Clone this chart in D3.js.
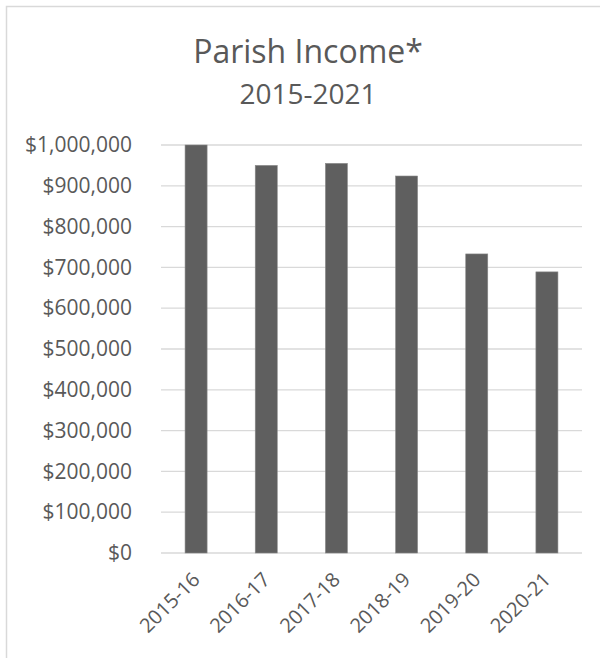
<!DOCTYPE html>
<html>
<head>
<meta charset="utf-8">
<script src="https://cdn.jsdelivr.net/npm/d3@7"></script>
<style>
  body { margin: 0; background: #fff; }
  text { font-family: "Open Sans", sans-serif; fill: #595959; }
</style>
</head>
<body>
<div class="chart"></div>
<script>
const years = ['2015-16', '2016-17', '2017-18', '2018-19', '2019-20', '2020-21']
const income = [1000000, 950000, 955000, 924000, 733000, 689000]
const yTicks = [0, 100000, 200000, 300000, 400000, 500000, 600000, 700000, 800000, 900000, 1000000]

const fullWidth = 600, fullHeight = 658
const margin = { top: 145, right: 18, bottom: 105, left: 161 }
const width = fullWidth - margin.left - margin.right
const height = fullHeight - margin.top - margin.bottom

const svg = d3.select('.chart')
    .append('svg')
    .attr('width', fullWidth)
    .attr('height', fullHeight)

// chart frame (right edge is cut off in the original)
svg.append('path')
    .attr('d', 'M6.5,700 V6.5 H620')
    .style('fill', 'none')
    .style('stroke', '#d9d9d9')
    .style('stroke-width', 1.5)

svg.append('text')
    .attr('x', 308).attr('y', 63)
    .attr('text-anchor', 'middle')
    .style('font-size', '32px')
    .text('Parish Income*')

svg.append('text')
    .attr('x', 308).attr('y', 104)
    .attr('text-anchor', 'middle')
    .style('font-size', '28px')
    .text('2015-2021')

const g = svg.append('g')
    .attr('transform', `translate(${margin.left}, ${margin.top})`)

const xScale = d3.scaleBand()
    .domain(years)
    .range([0, width])
    .paddingInner(0.686)
    .paddingOuter(0.343)

const yScale = d3.scaleLinear()
    .domain([0, 1000000])
    .range([height, 0])

// gridlines
g.selectAll('.grid')
    .data(yTicks)
    .enter().append('line')
    .attr('x1', 0)
    .attr('x2', width)
    .attr('y1', d => yScale(d))
    .attr('y2', d => yScale(d))
    .style('stroke', '#d9d9d9')
    .style('stroke-width', 1.3)

const fmt = d3.format('$,.0f')
const yAxis = d3.axisLeft(yScale).tickValues(yTicks).tickFormat(fmt).tickSize(0).tickPadding(29)
const gY = g.append('g').style('font-size', '21px').call(yAxis)
gY.select('.domain').remove()
gY.selectAll('text').style('font-family', '"Open Sans", sans-serif').style('fill', '#595959')

g.selectAll('.bar')
    .data(income)
    .enter().append('rect')
    .attr('x', (d, i) => xScale(years[i]))
    .attr('y', d => yScale(d))
    .attr('width', xScale.bandwidth())
    .attr('height', d => height - yScale(d))
    .style('fill', '#5f5f5f')
    .style('stroke', '#8a8a8a')
    .style('stroke-width', 0.6)

// rotated category labels
g.selectAll('.xlabel')
    .data(years)
    .enter().append('text')
    .attr('text-anchor', 'end')
    .style('font-size', '20px')
    .attr('transform', d => `translate(${xScale(d) + xScale.bandwidth() / 2 + 5}, ${height + 28}) rotate(-45)`)
    .text(d => d)
</script>
</body>
</html>
